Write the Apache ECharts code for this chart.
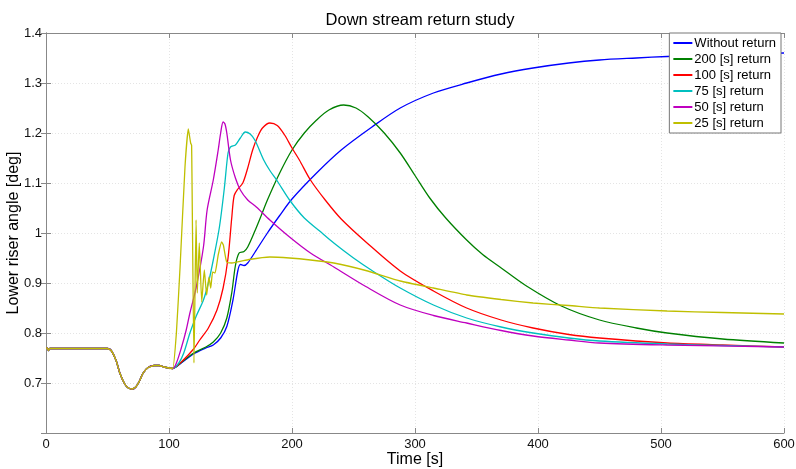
<!DOCTYPE html>
<html>
<head>
<meta charset="utf-8">
<script src="https://cdn.jsdelivr.net/npm/echarts@6/dist/echarts.min.js"></script>
<style>
html,body{margin:0;padding:0;background:#fff;}
#main{width:796px;height:469px;}
</style>
</head>
<body>
<div id="main"></div>
<script>
// common start (all runs identical until ~103 s)
var tCommon = [0, 1, 2, 3, 10, 30, 50, 53, 57, 60, 64, 67, 70, 73, 76, 79, 83, 88, 92, 96, 100, 103];
var vCommon = [0.77, 0.77, 0.765, 0.769, 0.769, 0.769, 0.769, 0.765, 0.745, 0.72, 0.698, 0.69, 0.688, 0.692, 0.704, 0.72, 0.731, 0.735, 0.735, 0.732, 0.73, 0.729];

var tNoRet = [110, 120, 130, 136, 142, 147, 152, 156, 158, 161, 164, 170, 180, 190, 200, 220, 240, 265, 288, 315, 342, 370, 396, 425, 450, 480, 505, 550, 600];
var vNoRet = [0.74, 0.758, 0.77, 0.776, 0.79, 0.813, 0.866, 0.925, 0.937, 0.935, 0.94, 0.962, 1.0, 1.035, 1.068, 1.12, 1.166, 1.212, 1.25, 1.28, 1.30, 1.318, 1.33, 1.34, 1.346, 1.35, 1.353, 1.357, 1.36];

var tRet200 = [110, 120, 130, 136, 142, 147, 151, 154, 157, 161, 164, 170, 175, 180, 190, 200, 210, 220, 230, 242, 252, 262, 275, 288, 300, 312, 325, 342, 355, 369, 390, 419, 450, 480, 505, 550, 600];
var vRet200 = [0.741, 0.76, 0.772, 0.782, 0.8, 0.83, 0.88, 0.935, 0.96, 0.963, 0.972, 1.005, 1.035, 1.066, 1.12, 1.166, 1.2, 1.226, 1.246, 1.256, 1.25, 1.232, 1.2, 1.16, 1.115, 1.07, 1.03, 0.986, 0.957, 0.932, 0.895, 0.854, 0.826, 0.81, 0.80, 0.788, 0.78];

var tRet100 = [110, 120, 125, 132, 139, 144, 148, 151, 153, 156, 160, 164, 168, 172, 176, 182, 188, 194, 200, 206, 215, 227, 240, 261, 288, 315, 342, 370, 396, 425, 450, 505, 550, 600];
var vRet100 = [0.742, 0.768, 0.786, 0.81, 0.846, 0.89, 0.95, 1.03, 1.075, 1.088, 1.1, 1.13, 1.166, 1.192, 1.21, 1.22, 1.215, 1.196, 1.17, 1.146, 1.106, 1.066, 1.028, 0.98, 0.924, 0.884, 0.85, 0.826, 0.81, 0.797, 0.79, 0.78, 0.776, 0.772];

var tRet75 = [108, 112, 117, 122, 128, 132, 136, 141, 145, 148, 150, 154, 158, 162, 166, 170, 177, 182, 188, 198, 210, 222, 234, 250, 265, 288, 315, 342, 370, 396, 425, 450, 505, 550, 600];
var vRet75 = [0.74, 0.76, 0.80, 0.833, 0.866, 0.9, 0.946, 1.012, 1.09, 1.16, 1.172, 1.176, 1.19, 1.202, 1.198, 1.185, 1.146, 1.125, 1.104, 1.066, 1.03, 1.005, 0.98, 0.95, 0.925, 0.89, 0.856, 0.83, 0.812, 0.80, 0.79, 0.784, 0.778, 0.775, 0.772];

var tRet50 = [106, 110, 114, 117, 122, 128, 131, 136, 140, 142, 144, 145.5, 147, 150, 154, 158, 164, 171, 182, 198, 215, 234, 260, 288, 315, 342, 370, 396, 425, 450, 505, 600];
var vRet50 = [0.74, 0.77, 0.806, 0.84, 0.89, 0.972, 1.046, 1.106, 1.166, 1.2, 1.222, 1.218, 1.2, 1.146, 1.11, 1.086, 1.066, 1.052, 1.026, 0.992, 0.96, 0.932, 0.893, 0.856, 0.835, 0.82, 0.805, 0.794, 0.786, 0.78, 0.776, 0.772];

var tRet25 = [106, 109, 113, 115.7, 117.6, 118.4, 120.3, 122, 123, 124.6, 126.6, 128.7, 130.6, 132.5, 133.9, 135.5, 137.4, 140, 142.8, 144.2, 146.9, 151, 165, 182, 198, 215, 234, 260, 288, 315, 342, 370, 396, 425, 450, 505, 550, 600];
var vRet25 = [0.8, 0.932, 1.132, 1.208, 1.18, 1.175, 0.74, 1.026, 0.88, 0.98, 0.862, 0.926, 0.876, 0.912, 0.89, 0.922, 0.92, 0.956, 0.982, 0.976, 0.942, 0.94, 0.947, 0.952, 0.95, 0.946, 0.94, 0.925, 0.904, 0.89, 0.876, 0.867, 0.86, 0.855, 0.85, 0.844, 0.841, 0.838];

var names = ['Without return', '200 [s] return', '100 [s] return', '75 [s] return', '50 [s] return', '25 [s] return'];
var colors = ['#0000ff', '#008000', '#ff0000', '#00bfbf', '#bf00bf', '#bfbf00'];

function build(t, v) {
    var d = [];
    for (var i = 0; i < tCommon.length; i++) d.push([tCommon[i], vCommon[i]]);
    for (var j = 0; j < t.length; j++) d.push([t[j], v[j]]);
    return d;
}

var tails = [[tNoRet, vNoRet], [tRet200, vRet200], [tRet100, vRet100], [tRet75, vRet75], [tRet50, vRet50], [tRet25, vRet25]];
var series = [];
for (var k = 0; k < names.length; k++) {
    series.push({
        name: names[k],
        type: 'line',
        data: build(tails[k][0], tails[k][1]),
        showSymbol: false,
        smooth: k == 5 ? 0.15 : 0.3,
        lineStyle: {color: colors[k], width: 1.3},
        itemStyle: {color: colors[k]}
    });
}

var font = '"Liberation Sans", Arial, sans-serif';
var myChart = echarts.init(document.getElementById('main'));
var option = {
    animation: false,
    backgroundColor: '#fff',
    title: {
        text: 'Down stream return study',
        left: 415, top: 7, textAlign: 'center',
        textStyle: {fontFamily: font, fontSize: 16.5, fontWeight: 'normal', color: '#000'}
    },
    legend: {
        data: names,
        orient: 'vertical',
        right: 15, top: 33,
        icon: 'rect', itemWidth: 19, itemHeight: 2, itemGap: 2,
        backgroundColor: '#fff', borderColor: '#777', borderWidth: 1,
        padding: [3, 5, 3, 4],
        textStyle: {fontFamily: font, fontSize: 13, color: '#000', lineHeight: 14, padding: [0, 0, 0, -3]}
    },
    grid: {left: 46, right: 12, top: 33, bottom: 36, containLabel: false, outerBoundsMode: 'none'},
    xAxis: [{
        type: 'value', min: 0, max: 600, interval: 100,
        name: 'Time [s]', nameLocation: 'middle', nameGap: 19, nameMoveOverlap: false,
        nameTextStyle: {fontFamily: font, fontSize: 16, color: '#000'},
        axisLine: {lineStyle: {color: '#888'}},
        axisTick: {inside: true, length: 5, lineStyle: {color: '#888'}},
        axisLabel: {fontFamily: font, fontSize: 13, color: '#111', margin: 5},
        splitLine: {show: true, lineStyle: {color: '#e4e4e4', type: [1, 2]}}
    }, {
        type: 'value', min: 0, max: 600, interval: 100, position: 'top',
        axisLine: {lineStyle: {color: '#888'}},
        axisTick: {inside: true, length: 5, lineStyle: {color: '#888'}},
        axisLabel: {show: false}, splitLine: {show: false}
    }],
    yAxis: [{
        type: 'value', min: 0.6, max: 1.4, interval: 0.1,
        name: 'Lower riser angle [deg]', nameLocation: 'middle', nameGap: 24, nameMoveOverlap: false,
        nameTextStyle: {fontFamily: font, fontSize: 16, color: '#000'},
        axisLine: {show: true, lineStyle: {color: '#888'}},
        axisTick: {inside: true, length: 5, lineStyle: {color: '#888'}},
        axisLabel: {
            fontFamily: font, fontSize: 13, color: '#111', margin: 4,
            formatter: function (v) {
                if (Math.abs(v - 0.6) < 1e-6) return '';
                return (Math.round(v * 10) / 10).toString();
            }
        },
        splitLine: {show: true, lineStyle: {color: '#e4e4e4', type: [1, 2]}}
    }, {
        type: 'value', min: 0.6, max: 1.4, interval: 0.1, position: 'right',
        axisLine: {show: true, lineStyle: {color: '#888'}},
        axisTick: {inside: true, length: 5, lineStyle: {color: '#888'}},
        axisLabel: {show: false}, splitLine: {show: false}
    }],
    series: series
};
myChart.setOption(option);
</script>
</body>
</html>
